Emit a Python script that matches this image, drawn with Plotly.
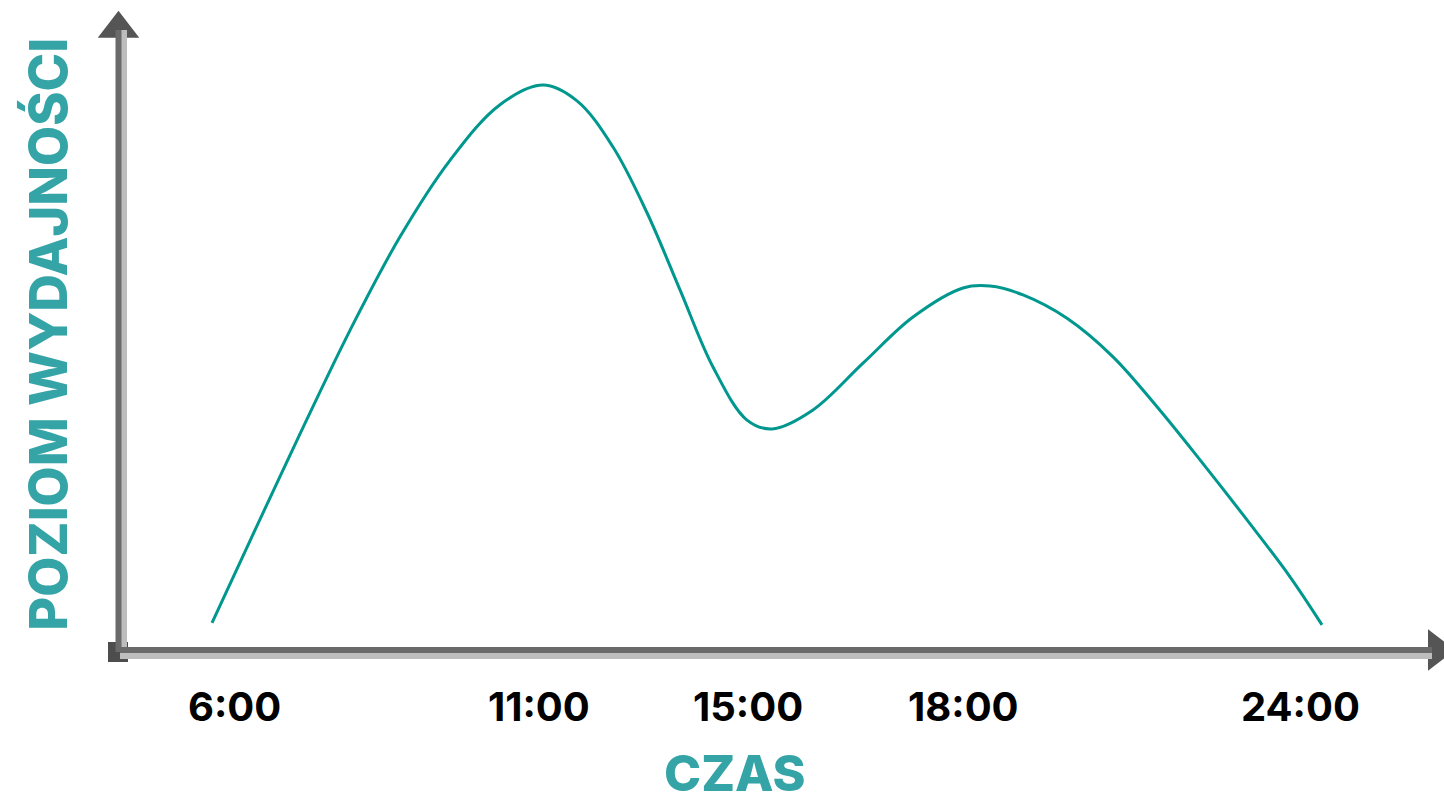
import plotly.graph_objects as go

# Schematic chart: x in chart units measured from the vertical axis,
# y = performance level (0 = time axis, 100 = top of the vertical axis)
curve_x = [92, 130, 180, 230, 280, 330, 380, 423, 457, 493, 527, 560, 593, 627, 652,
           693, 743, 793, 843, 870, 903, 947, 993, 1037, 1080, 1127, 1170, 1202]
curve_y = [4.6, 17.6, 34.5, 50.9, 65.7, 77.8, 86.6, 89.7, 87.2, 79.9, 69.5, 57.3, 45.1, 36.7, 35.3,
           38.3, 45.7, 53.0, 57.6, 57.9, 56.5, 52.8, 46.7, 38.8, 30.4, 20.9, 11.9, 4.3]

tick_x = [114, 419, 628, 843, 1180]
tick_labels = ["6:00", "11:00", "15:00", "18:00", "24:00"]

x_title = "CZAS"
y_title = "POZIOM WYDAJNOŚCI"

LINE_COLOR = "#00978F"
TITLE_COLOR = "#35A4A6"
AXIS_DARK = "#6a6a6a"
AXIS_LIGHT = "#bdbdbd"
PX_PER_Y = 6.32  # pixels per y unit

fig = go.Figure()

# the curve
fig.add_trace(go.Scatter(
    x=curve_x, y=curve_y, mode="lines",
    line=dict(color=LINE_COLOR, width=3, shape="spline", smoothing=1.0),
    hoverinfo="skip", showlegend=False,
))

# axis lines (dark line with a light shadow)
y_top = 98.4
x_end = 1312
shapes = [
    dict(type="line", xref="x", yref="y", x0=4, x1=4, y0=-1, y1=y_top,
         line=dict(color=AXIS_LIGHT, width=6)),
    dict(type="line", xref="x", yref="y", x0=0, x1=x_end, y0=-0.63, y1=-0.63,
         line=dict(color=AXIS_LIGHT, width=6)),
    dict(type="line", xref="x", yref="y", x0=-1.5, x1=-1.5, y0=0, y1=y_top,
         line=dict(color=AXIS_DARK, width=6)),
    dict(type="line", xref="x", yref="y", x0=0, x1=x_end, y0=0.32, y1=0.32,
         line=dict(color=AXIS_DARK, width=6)),
]

# arrowheads and origin dot
fig.add_trace(go.Scatter(
    x=[-1.5], y=[98.6], mode="markers",
    marker=dict(symbol="triangle-up", size=36, color="#555555"),
    hoverinfo="skip", showlegend=False, cliponaxis=False,
))
fig.add_trace(go.Scatter(
    x=[1317], y=[0.32], mode="markers",
    marker=dict(symbol="triangle-right", size=36, color="#555555"),
    hoverinfo="skip", showlegend=False, cliponaxis=False,
))
fig.add_trace(go.Scatter(
    x=[-2], y=[0], mode="markers",
    marker=dict(symbol="square", size=20, color="#4d4d4d"),
    hoverinfo="skip", showlegend=False, cliponaxis=False,
))

annotations = []
for tx, tl in zip(tick_x, tick_labels):
    annotations.append(dict(
        x=tx, y=-8.6, xref="x", yref="y", text=tl, showarrow=False,
        xanchor="center", yanchor="middle",
        font=dict(family="Inter", size=40, color="#000000", weight=700),
    ))
annotations.append(dict(
    x=615, y=-24.1, xref="x", yref="y", text=x_title, showarrow=False,
    xanchor="center", yanchor="bottom", borderpad=0,
    font=dict(family="Inter", size=50, color=TITLE_COLOR, weight=800),
))
annotations.append(dict(
    x=-72, y=50.2, xref="x", yref="y", text=y_title, showarrow=False,
    xanchor="center", yanchor="middle", textangle=-90,
    font=dict(family="Inter", size=52, color=TITLE_COLOR, weight=800),
))

fig.update_layout(
    width=1444, height=805, autosize=False,
    margin=dict(l=0, r=0, t=0, b=0, pad=0),
    paper_bgcolor="white", plot_bgcolor="white",
    xaxis=dict(range=[-120, 1324], visible=False, fixedrange=True),
    yaxis=dict(range=[(652 - 805) / PX_PER_Y, 652 / PX_PER_Y], visible=False, fixedrange=True),
    shapes=shapes,
    annotations=annotations,
)

fig.write_html("out.html", config={"displayModeBar": False},
               post_script="document.body.style.margin='0';")
